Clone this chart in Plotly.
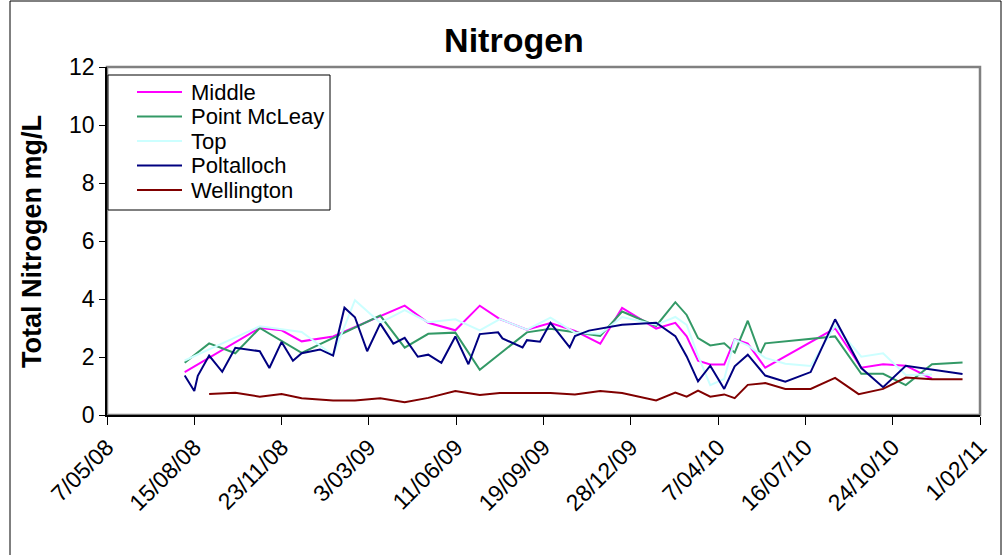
import plotly.graph_objects as go

# ---------------- data ----------------
middle_dates = ["2008-08-04", "2008-10-29", "2008-11-23", "2008-12-16", "2009-01-21", "2009-03-16",
                "2009-04-13", "2009-05-10", "2009-06-10", "2009-07-08", "2009-07-31", "2009-08-31",
                "2009-09-27", "2009-10-25", "2009-11-23", "2009-12-18", "2010-01-26", "2010-02-17",
                "2010-03-02", "2010-03-15", "2010-03-29", "2010-04-14", "2010-04-26", "2010-05-11",
                "2010-05-31", "2010-08-19", "2010-09-18", "2010-10-13", "2010-11-08", "2010-12-08"]
middle_vals = [1.48, 3.00, 2.92, 2.54, 2.71, 3.40,
               3.77, 3.18, 2.92, 3.77, 3.31, 2.94,
               3.17, 2.90, 2.46, 3.69, 2.98, 3.18,
               2.71, 1.87, 1.74, 1.74, 2.61, 2.46,
               1.63, 2.99, 1.63, 1.75, 1.70, 1.25]

mcleay_dates = ["2008-08-04", "2008-09-01", "2008-10-01", "2008-10-29", "2008-12-16", "2009-03-16",
                "2009-04-13", "2009-05-10", "2009-06-10", "2009-07-08", "2009-08-31", "2009-09-27",
                "2009-10-25", "2009-11-23", "2009-12-18", "2010-01-26", "2010-02-17", "2010-03-02",
                "2010-03-15", "2010-03-29", "2010-04-14", "2010-04-26", "2010-05-11", "2010-05-25",
                "2010-05-31", "2010-08-19", "2010-09-18", "2010-10-13", "2010-11-08", "2010-12-08",
                "2011-01-12"]
mcleay_vals = [1.80, 2.47, 2.13, 3.00, 2.14, 3.43,
               2.32, 2.80, 2.84, 1.56, 2.85, 2.97,
               2.85, 2.73, 3.57, 3.07, 3.89, 3.45,
               2.65, 2.40, 2.47, 2.15, 3.25, 2.10,
               2.47, 2.71, 1.42, 1.42, 1.03, 1.75,
               1.81]

top_dates = ["2008-08-04", "2008-10-29", "2008-12-16", "2009-01-21", "2009-02-15", "2009-03-16",
             "2009-04-13", "2009-05-10", "2009-06-10", "2009-07-08", "2009-07-31", "2009-08-31",
             "2009-09-27", "2009-10-25", "2009-11-23", "2009-12-18", "2010-01-26", "2010-02-17",
             "2010-03-02", "2010-03-15", "2010-03-29", "2010-04-14", "2010-04-26", "2010-05-11",
             "2010-05-31", "2010-06-23", "2010-07-22", "2010-08-19", "2010-09-18", "2010-10-13",
             "2010-11-08", "2010-12-08"]
top_vals = [1.88, 3.06, 2.86, 2.06, 3.96, 3.18,
            3.62, 3.20, 3.30, 2.92, 3.31, 2.94,
            3.36, 2.84, 2.80, 3.38, 3.11, 3.38,
            3.11, 2.05, 1.03, 1.24, 2.60, 2.40,
            1.97, 1.77, 1.69, 3.08, 2.01, 2.13,
            1.38, 1.40]

poltalloch_dates = ["2008-08-04", "2008-08-15", "2008-08-19", "2008-09-01", "2008-09-16", "2008-10-01",
                    "2008-10-29", "2008-11-09", "2008-11-23", "2008-12-06", "2008-12-16", "2009-01-06",
                    "2009-01-21", "2009-02-03", "2009-02-15", "2009-03-01", "2009-03-16", "2009-03-31",
                    "2009-04-13", "2009-04-28", "2009-05-10", "2009-05-25", "2009-06-10", "2009-06-25",
                    "2009-07-08", "2009-07-29", "2009-08-03", "2009-08-26", "2009-08-31", "2009-09-15",
                    "2009-09-27", "2009-10-19", "2009-10-25", "2009-11-10", "2009-12-18", "2010-01-26",
                    "2010-02-17", "2010-03-02", "2010-03-15", "2010-03-29", "2010-04-14", "2010-04-26",
                    "2010-05-11", "2010-05-31", "2010-06-23", "2010-07-22", "2010-08-19", "2010-09-18",
                    "2010-10-13", "2010-11-08", "2011-01-12"]
poltalloch_vals = [1.36, 0.83, 1.35, 2.05, 1.49, 2.32,
                   2.20, 1.62, 2.52, 1.87, 2.13, 2.26,
                   2.05, 3.70, 3.37, 2.20, 3.15, 2.46,
                   2.66, 2.01, 2.08, 1.80, 2.71, 1.75,
                   2.79, 2.85, 2.64, 2.33, 2.58, 2.53,
                   3.18, 2.33, 2.72, 2.91, 3.11, 3.18,
                   2.72, 2.02, 1.16, 1.70, 0.90, 1.68,
                   2.08, 1.36, 1.15, 1.48, 3.30, 1.62,
                   0.96, 1.70, 1.41]

wellington_dates = ["2008-09-01", "2008-10-01", "2008-10-29", "2008-11-23", "2008-12-16", "2009-01-21",
                    "2009-02-15", "2009-03-16", "2009-04-13", "2009-05-10", "2009-06-10", "2009-07-08",
                    "2009-07-31", "2009-08-31", "2009-09-27", "2009-10-25", "2009-11-23", "2009-12-18",
                    "2010-01-26", "2010-02-17", "2010-03-02", "2010-03-15", "2010-03-29", "2010-04-14",
                    "2010-04-26", "2010-05-11", "2010-05-31", "2010-06-23", "2010-07-22", "2010-08-19",
                    "2010-09-15", "2010-10-13", "2010-11-08", "2010-12-08", "2011-01-12"]
wellington_vals = [0.72, 0.77, 0.63, 0.72, 0.58, 0.50,
                   0.50, 0.58, 0.44, 0.59, 0.83, 0.69,
                   0.76, 0.75, 0.76, 0.71, 0.83, 0.76,
                   0.50, 0.77, 0.63, 0.84, 0.63, 0.71,
                   0.58, 1.04, 1.10, 0.90, 0.90, 1.28,
                   0.72, 0.90, 1.29, 1.23, 1.23]

series_names = ["Middle", "Point McLeay", "Top", "Poltalloch", "Wellington"]
series_colors = ["#FF00FF", "#339966", "#CCFFFF", "#000080", "#800000"]
series_dates = [middle_dates, mcleay_dates, top_dates, poltalloch_dates, wellington_dates]
series_vals = [middle_vals, mcleay_vals, top_vals, poltalloch_vals, wellington_vals]

x_start, x_end = "2008-05-07", "2011-02-01"
y_ticks = [0, 2, 4, 6, 8, 10, 12]
title_text = "Nitrogen"
y_title_text = "Total Nitrogen mg/L"

# ---------------- layout geometry (pixels) ----------------
W, H = 1006, 555
L, R, T, B = 107, 980, 67, 415          # plot-area edges
PW, PH = R - L, B - T


def px_x(x):
    return (x - L) / PW


def px_y(y):
    return (B - y) / PH


FONT = "Liberation Sans, Arial, sans-serif"
DAY_MS = 86400000

fig = go.Figure()
for name, color, d, v in zip(series_names, series_colors, series_dates, series_vals):
    fig.add_trace(go.Scatter(x=d, y=v, name=name, mode="lines",
                             line=dict(color=color, width=2), showlegend=False))

fig.update_layout(
    width=W, height=H,
    margin=dict(l=L, r=W - R, t=T, b=H - B),
    paper_bgcolor="white", plot_bgcolor="white",
    font=dict(family=FONT, color="black", size=18),
    title=dict(text="<b>" + title_text + "</b>", x=514 / W, xanchor="center",
               y=1 - 40 / H, yanchor="middle",
               font=dict(size=34, family=FONT, color="black")),
    showlegend=False,
    xaxis=dict(type="date", range=[x_start, x_end],
               tick0=x_start, dtick=100 * DAY_MS, tickformat="%-d/%m/%y",
               tickangle=-45, ticks="outside", ticklen=8, tickcolor="black",
               showline=True, linecolor="black", linewidth=1.5,
               showgrid=False, zeroline=False,
               tickfont=dict(size=23, family=FONT)),
    yaxis=dict(range=[0, 12], tickvals=y_ticks, ticks="outside", ticklen=6,
               tickcolor="black", showline=True, linecolor="black", linewidth=1.5,
               showgrid=False, zeroline=False,
               tickfont=dict(size=23, family=FONT)),
)

# y-axis title
fig.add_annotation(text="<b>" + y_title_text + "</b>", textangle=-90,
                   xref="paper", yref="paper", x=px_x(32), y=px_y(242),
                   xanchor="center", yanchor="middle", showarrow=False,
                   font=dict(size=27, family=FONT, color="black"))

# plot-area border (grey) and chart-area border
fig.add_shape(type="rect", xref="paper", yref="paper", x0=0, y0=0, x1=1, y1=1,
              line=dict(color="#808080", width=2.5), layer="below")
fig.add_shape(type="rect", xref="paper", yref="paper",
              x0=px_x(10), y0=px_y(H + 5), x1=px_x(1001), y1=px_y(1),
              line=dict(color="black", width=1), layer="below")

# legend box (drawn to match the reference's compact Excel legend)
fig.add_shape(type="rect", xref="paper", yref="paper",
              x0=px_x(108), y0=px_y(210), x1=px_x(330), y1=px_y(75),
              line=dict(color="black", width=1), fillcolor="white", layer="above")
for i, (name, color) in enumerate(zip(series_names, series_colors)):
    yy = 92 + 24.5 * i
    fig.add_shape(type="line", xref="paper", yref="paper",
                  x0=px_x(137), x1=px_x(182), y0=px_y(yy), y1=px_y(yy),
                  line=dict(color=color, width=2), layer="above")
    fig.add_annotation(text=name, xref="paper", yref="paper", x=px_x(189), y=px_y(yy),
                       xanchor="left", yanchor="middle", showarrow=False,
                       font=dict(size=22, family=FONT, color="black"))

fig.write_html("out.html")
